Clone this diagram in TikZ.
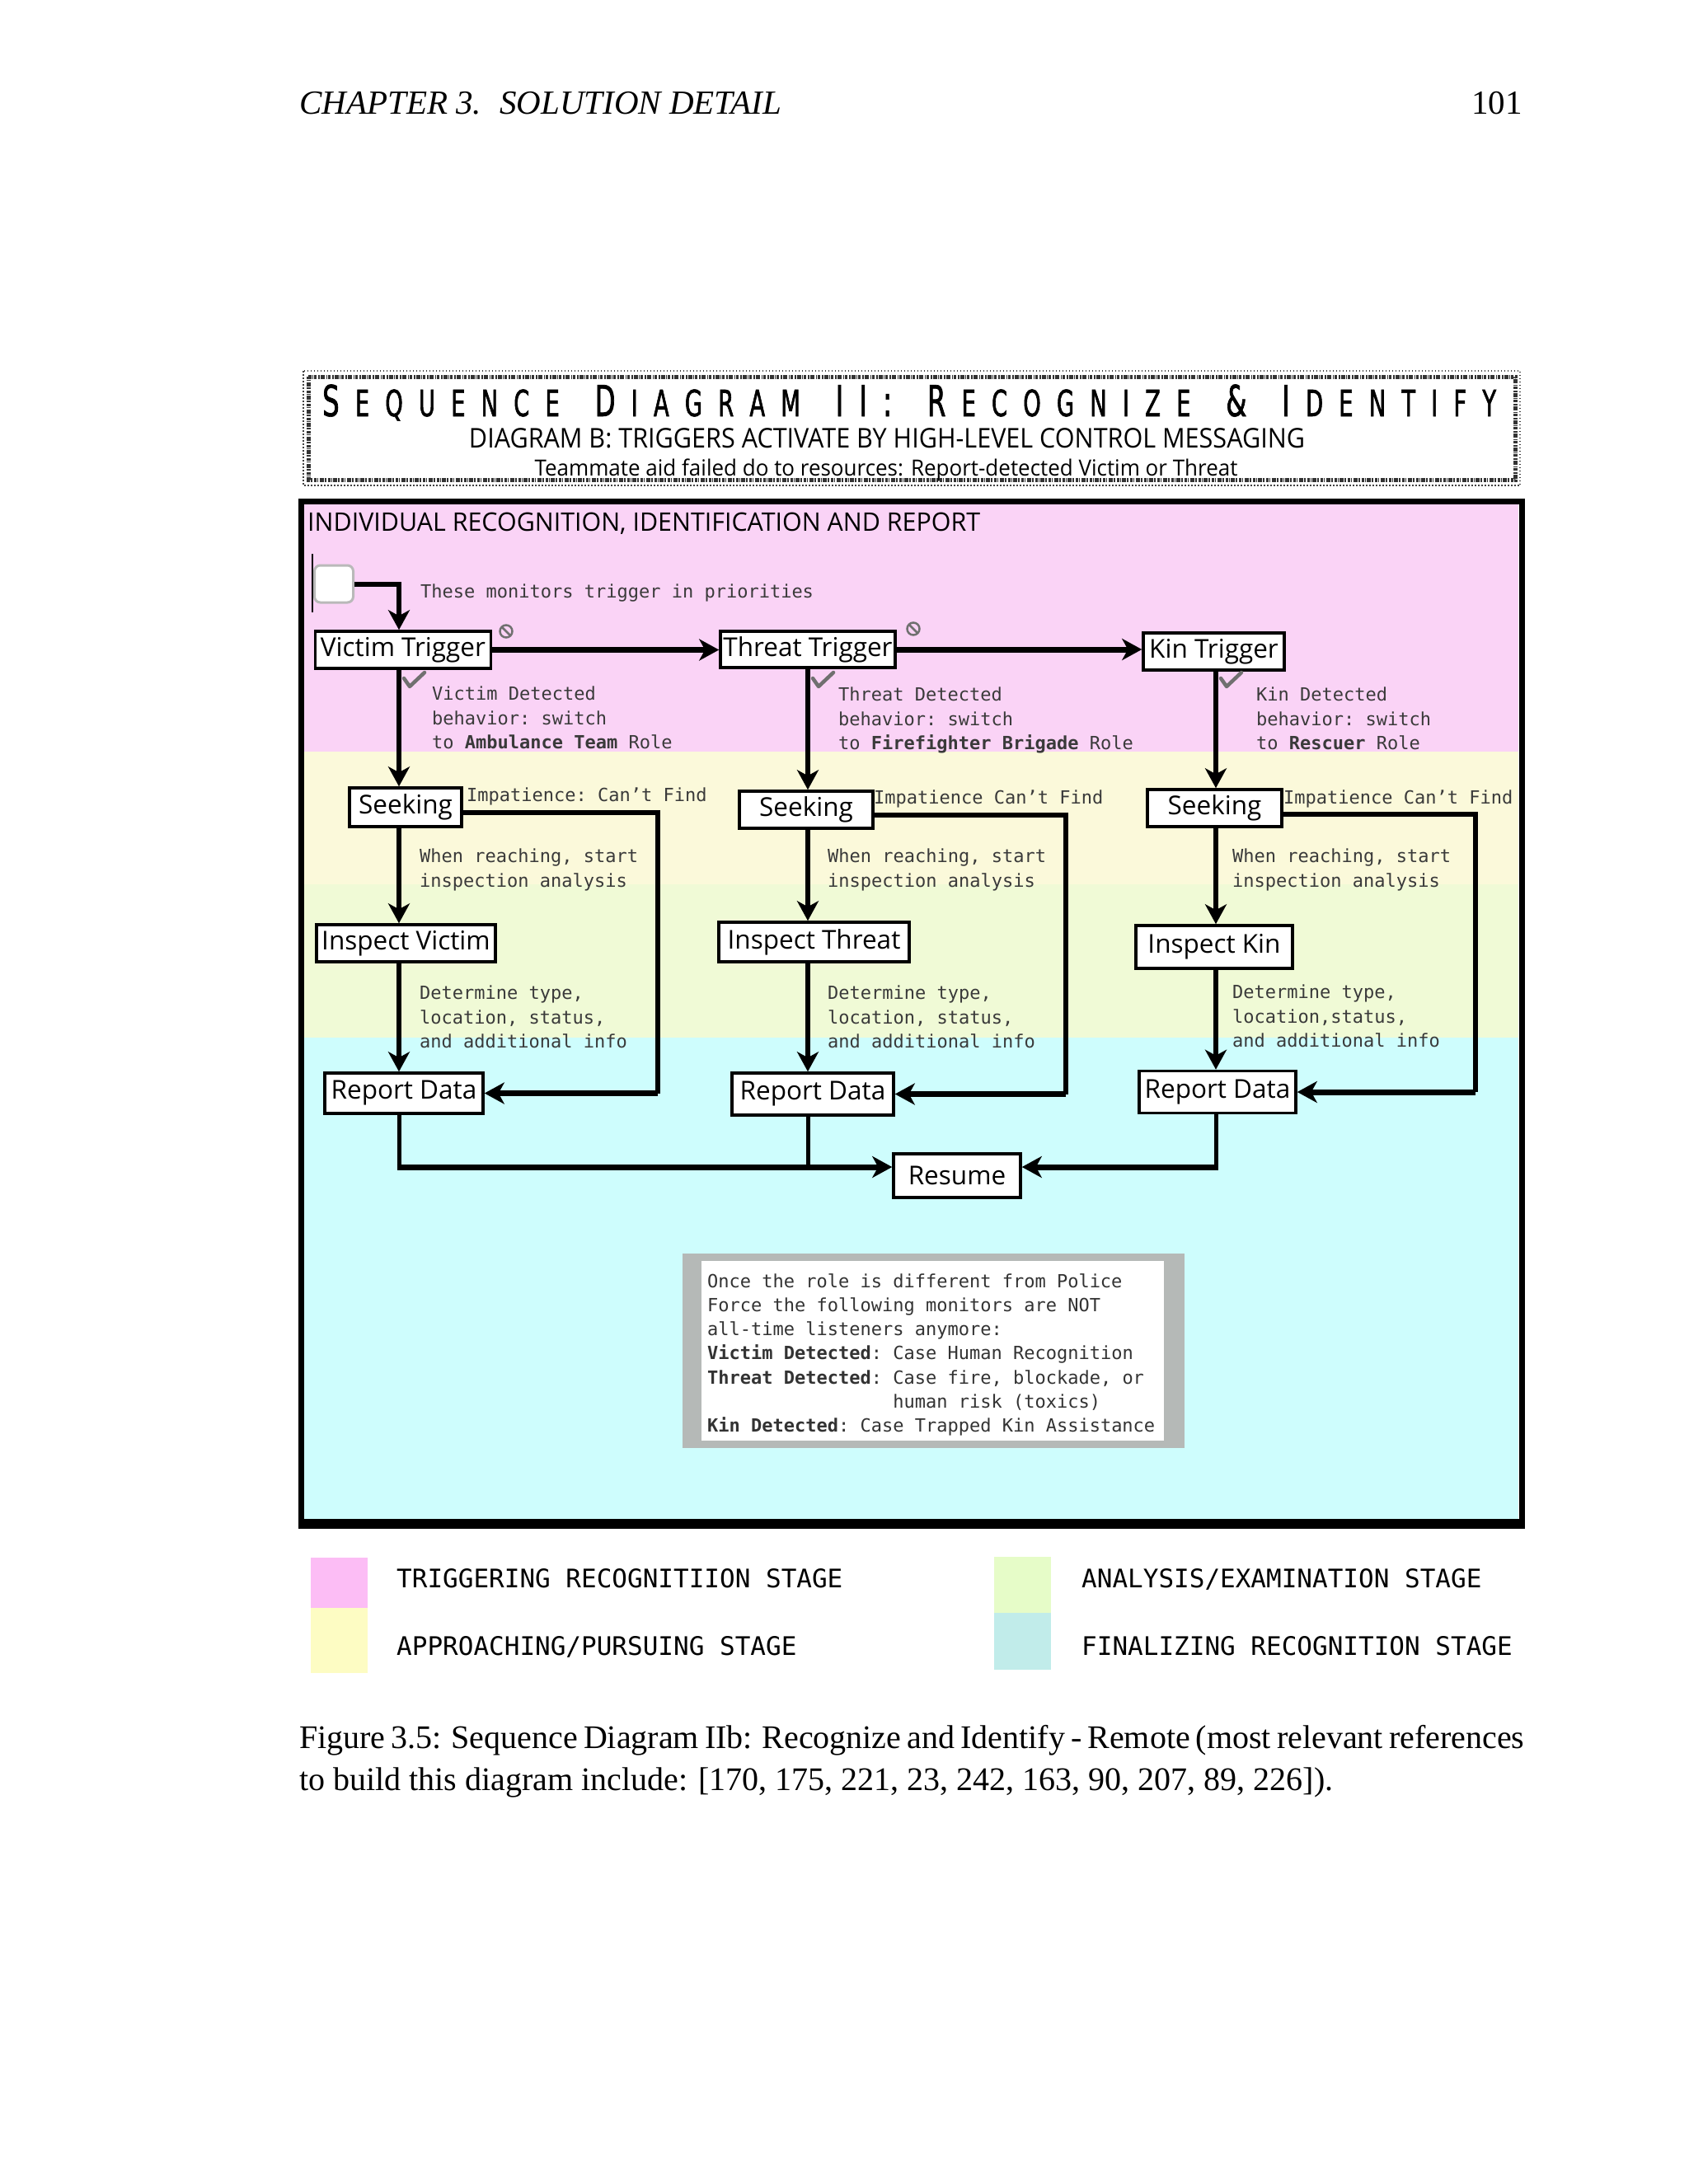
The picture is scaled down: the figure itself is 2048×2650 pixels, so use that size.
\documentclass[tikz,border=0pt]{standalone}
\usepackage{fontspec}
\usepackage{graphicx}
\usetikzlibrary{arrows.meta,calc}
\setmainfont{Liberation Serif}
\newfontfamily\sansf{Open Sans}
\newfontfamily\monof{DejaVu Sans Mono}
\newfontfamily\titlef[FakeStretch=0.55,FakeBold=1.2]{DejaVu Sans}
\definecolor{pinkband}{HTML}{FAD3F6}
\definecolor{yellowband}{HTML}{FBF9DA}
\definecolor{greenband}{HTML}{F0FAD6}
\definecolor{cyanband}{HTML}{CEFDFD}
\definecolor{pinkleg}{HTML}{FCBDF5}
\definecolor{yellowleg}{HTML}{FDFCC3}
\definecolor{greenleg}{HTML}{E6FCC8}
\definecolor{cyanleg}{HTML}{C1ECEA}
\definecolor{notegray}{HTML}{B5B9B7}
\definecolor{monotxt}{HTML}{3A3A3A}
\definecolor{markgray}{HTML}{707070}
\newcommand\fitw[2]{\resizebox{#1}{\height}{#2}}
\def\mysp#1{\ifx\relax#1\else#1\kern17pt\expandafter\mysp\fi}
\newcommand\tB[1]{{\fontsize{52}{52}\selectfont\mysp#1\relax}}
\newcommand\tS[1]{{\fontsize{44}{44}\selectfont\mysp#1\relax}}
\newcommand\tW{\kern21pt}
\tikzset{
 nbox/.style={draw=black, line width=3.5pt, fill=white, inner sep=0pt, font=\sansf\fontsize{31.5}{37}\selectfont},
 vconn/.style={line width=6pt},
 hconn/.style={line width=7pt},
 lconn/.style={line width=5.5pt, line join=miter},
 arrowend/.style={-{Stealth[length=24pt,width=26pt,inset=7pt]}},
 mtxt/.style={font=\monof\fontsize{22}{29.5}\selectfont\frenchspacing, text=monotxt, inner sep=0pt, align=left, anchor=north west},
 mline/.style={font=\monof\fontsize{22}{29.5}\selectfont\frenchspacing, text=monotxt, inner sep=0pt, anchor=base west},
 ltxt/.style={font=\monof\fontsize{31}{37}\selectfont\frenchspacing, inner sep=0pt, anchor=base west},
 proh/.style={draw=markgray, line width=2.5pt},
 chk/.style={draw=markgray, line width=4.5pt, line join=round, line cap=round},
}
\begin{document}
\begin{tikzpicture}[x=1pt,y=-1pt]
\useasboundingbox (0,0) rectangle (2048,2650);
\fill[white] (0,0) rectangle (2048,2650);

% page header
\node[anchor=base west, inner sep=0, font=\itshape\fontsize{41}{48}\selectfont] (hdr) at (363,138) {CHAPTER 3.\hspace{22pt}SOLUTION DETAIL};
\node[anchor=base east, inner sep=0, font=\fontsize{41}{48}\selectfont] (pgno) at (1847,138) {101};

% title box
\draw[line width=1.5pt, dash pattern=on 1.5pt off 2.5pt, black!75] (368,450) rectangle (1844,589);
\draw[line width=5pt, dash pattern=on 3pt off 1pt on 1pt off 1.5pt on 5pt off 1pt on 2pt off 2pt, black!80] (374,457) rectangle (1838,582);
\node[anchor=base west, inner sep=0, font=\titlef] (ttl) at (391,505) {\fitw{1443pt}{\tB{S}\tS{EQUENCE}\tW\tB{D}\tS{IAGRAM}\tW\tB{II:}\tW\tB{R}\tS{ECOGNIZE}\tW\tB{\&}\tW\tB{I}\tS{DENTIFY}}};
\node[anchor=base, inner sep=0, font=\sansf\fontsize{33}{33}\selectfont] (sub1) at (1076,543) {\fitw{1014pt}{DIAGRAM B: TRIGGERS ACTIVATE BY HIGH-LEVEL CONTROL MESSAGING}};
\node[anchor=base, inner sep=0, font=\sansf\fontsize{27}{27}\selectfont] (sub2) at (1075,577) {\fitw{853pt}{Teammate aid failed do to resources: Report-detected Victim or Threat}};

% stage bands
\fill[pinkband] (369,612) rectangle (1842,912);
\fill[yellowband] (369,912) rectangle (1842,1073);
\fill[greenband] (369,1073) rectangle (1842,1259);
\fill[cyanband] (369,1259) rectangle (1842,1846);
\draw[line width=7pt] (365.5,608.5) rectangle (1846,1848);
\fill[black] (362,1843) rectangle (1849.5,1855);

\node[anchor=base west, inner sep=0, font=\sansf\fontsize{31}{31}\selectfont] (head) at (373,644) {\fitw{816pt}{INDIVIDUAL RECOGNITION, IDENTIFICATION AND REPORT}};

% columns and helper coordinates
\coordinate (cV) at (484,0);
\coordinate (cT) at (980,0);
\coordinate (cK) at (1475,0);
\coordinate (lV) at (798,986);
\coordinate (lT) at (1293,989);
\coordinate (lK) at (1790,988);
\coordinate (mY) at (0,1416);

% start element
\node[draw=gray!55, line width=3pt, fill=white, rounded corners=7pt, minimum width=47pt, minimum height=45pt, inner sep=0] (startel) at (405,708.5) {};
\draw[line width=2.5pt] (379,672) -- (379,743);

% nodes
\node[nbox, minimum width=213pt, minimum height=45pt] (vt) at (489,788.5) {Victim Trigger};
\node[nbox, minimum width=212pt, minimum height=44pt] (tt) at (980,788) {Threat Trigger};
\node[nbox, minimum width=171pt, minimum height=45pt] (kt) at (1472.5,790.5) {Kin Trigger};
\node[nbox, minimum width=136pt, minimum height=47pt] (sv) at (492,979.5) {Seeking};
\node[nbox, minimum width=162pt, minimum height=45pt] (sth) at (978,982.5) {Seeking};
\node[nbox, minimum width=163pt, minimum height=45pt] (sk) at (1473.5,980.5) {Seeking};
\node[nbox, minimum width=217pt, minimum height=45pt] (iv) at (492.5,1144.5) {Inspect Victim};
\node[nbox, minimum width=231pt, minimum height=48pt] (ith) at (987.5,1143) {Inspect Threat};
\node[nbox, minimum width=190pt, minimum height=52pt] (ik) at (1473,1149) {Inspect Kin};
\node[nbox, minimum width=192pt, minimum height=49pt] (rv) at (490,1326.5) {Report Data};
\node[nbox, minimum width=196pt, minimum height=51pt] (rth) at (986,1327.5) {Report Data};
\node[nbox, minimum width=190pt, minimum height=51pt] (rk) at (1477,1325) {Report Data};
\node[nbox, minimum width=154pt, minimum height=53pt] (res) at (1161,1426.5) {Resume};

% connectors
\draw[vconn, arrowend, line join=miter] (startel.east) -| (vt.north -| cV);
\draw[hconn, arrowend] (vt.east) -- (vt.east -| tt.west);
\draw[hconn, arrowend] (tt.east) -- (tt.east -| kt.west);
\draw[vconn, arrowend] (vt.south -| cV) -- (sv.north -| cV);
\draw[vconn, arrowend] (tt.south -| cT) -- (sth.north -| cT);
\draw[vconn, arrowend] (kt.south -| cK) -- (sk.north -| cK);
\draw[vconn, arrowend] (sv.south -| cV) -- (iv.north -| cV);
\draw[vconn, arrowend] (sth.south -| cT) -- (ith.north -| cT);
\draw[vconn, arrowend] (sk.south -| cK) -- (ik.north -| cK);
\draw[vconn, arrowend] (iv.south -| cV) -- (rv.north -| cV);
\draw[vconn, arrowend] (ith.south -| cT) -- (rth.north -| cT);
\draw[vconn, arrowend] (ik.south -| cK) -- (rk.north -| cK);
% impatience loops
\draw[lconn] (sv.east |- lV) -- (lV) -- (lV |- rv.east);
\draw[hconn, arrowend] (lV |- rv.east) -- (rv.east);
\draw[lconn] (sth.east |- lT) -- (lT) -- (lT |- rth.east);
\draw[hconn, arrowend] (lT |- rth.east) -- (rth.east);
\draw[lconn] (sk.east |- lK) -- (lK) -- (lK |- rk.east);
\draw[hconn, arrowend] (lK |- rk.east) -- (rk.east);
% to resume
\draw[line width=5pt] (rv.south -| cV) -- ([yshift=-3.5pt]cV |- mY);
\draw[line width=5pt] (rth.south -| cT) -- (cT |- mY);
\draw[line width=5pt] (rk.south -| cK) -- ([yshift=-3.5pt]cK |- mY);
\draw[hconn, arrowend] ([xshift=-2.5pt]cV |- mY) -- (res.west |- mY);
\draw[hconn, arrowend] ([xshift=2.5pt]cK |- mY) -- (res.east |- mY);

% guard marks
\foreach \p/\q in {614/766,1108/763}{
  \draw[proh] (\p,\q) circle[radius=7.5pt];
  \draw[proh] ({\p-5.3},{\q-5.3}) -- ({\p+5.3},{\q+5.3});
}
\foreach \c in {484,980,1475}{
  \draw[chk] ({\c+6},823) -- ({\c+13},833) -- ({\c+31},816);
}

% annotations
\node[mline] (prio) at (510,725) {These monitors trigger in priorities};
\node[mtxt] (dv) at (524,833) {Victim Detected\\behavior: switch\\to \textbf{Ambulance Team} Role};
\node[mtxt] (dt) at (1017,834) {Threat Detected\\behavior: switch\\to \textbf{Firefighter Brigade} Role};
\node[mtxt] (dk) at (1524,834) {Kin Detected\\behavior: switch\\to \textbf{Rescuer} Role};
\node[mline] (impv) at (566,972) {Impatience: Can’t Find};
\node[mline] (impt) at (1060,975) {Impatience Can’t Find};
\node[mline] (impk) at (1557,975) {Impatience Can’t Find};
\node[mtxt] (wv) at (509,1030) {When reaching, start\\inspection analysis};
\node[mtxt] (wt) at (1004,1030) {When reaching, start\\inspection analysis};
\node[mtxt] (wk) at (1495,1030) {When reaching, start\\inspection analysis};
\node[mtxt] (detv) at (509,1196) {Determine type,\\location, status,\\and additional info};
\node[mtxt] (dett) at (1004,1196) {Determine type,\\location, status,\\and additional info};
\node[mtxt] (detk) at (1495,1195) {Determine type,\\location,status,\\and additional info};

% note box
\node[fill=notegray, minimum width=609pt, minimum height=236pt, inner sep=0] (notebg) at (1132.5,1639) {};
\node[fill=white, minimum width=561pt, minimum height=218pt, inner sep=0] (notefg) at (1131.5,1639) {};
\node[mtxt, font=\monof\fontsize{22}{29.3}\selectfont\frenchspacing, text=black!80] (notetxt) at (858,1545) {Once the role is different from Police\\Force the following monitors are NOT\\all-time listeners anymore:\\\textbf{Victim Detected}: Case Human Recognition\\\textbf{Threat Detected}: Case fire, blockade, or\\\phantom{Threat Detected: }human risk (toxics)\\\textbf{Kin Detected}: Case Trapped Kin Assistance};

% legend
\fill[pinkleg] (377,1890) rectangle (446,1951);
\fill[yellowleg] (377,1951) rectangle (446,2030);
\fill[greenleg] (1206,1889) rectangle (1275,1957);
\fill[cyanleg] (1206,1957) rectangle (1275,2026);
\node[ltxt] (lg1) at (481,1926) {TRIGGERING RECOGNITIION STAGE};
\node[ltxt] (lg2) at (481,2008) {APPROACHING/PURSUING STAGE};
\node[ltxt] (lg3) at (1312,1926) {ANALYSIS/EXAMINATION STAGE};
\node[ltxt] (lg4) at (1312,2008) {FINALIZING RECOGNITION STAGE};

% caption
\node[anchor=base west, inner sep=0, font=\fontsize{40}{48}\selectfont] (cap1) at (363,2121) {\makebox[1486pt][s]{Figure 3.5: Sequence Diagram IIb: Recognize and Identify - Remote (most relevant references}};
\node[anchor=base west, inner sep=0, font=\fontsize{40}{48}\selectfont] (cap2) at (363,2172) {to build this diagram include: [170, 175, 221, 23, 242, 163, 90, 207, 89, 226]).};
\end{tikzpicture}
\end{document}
